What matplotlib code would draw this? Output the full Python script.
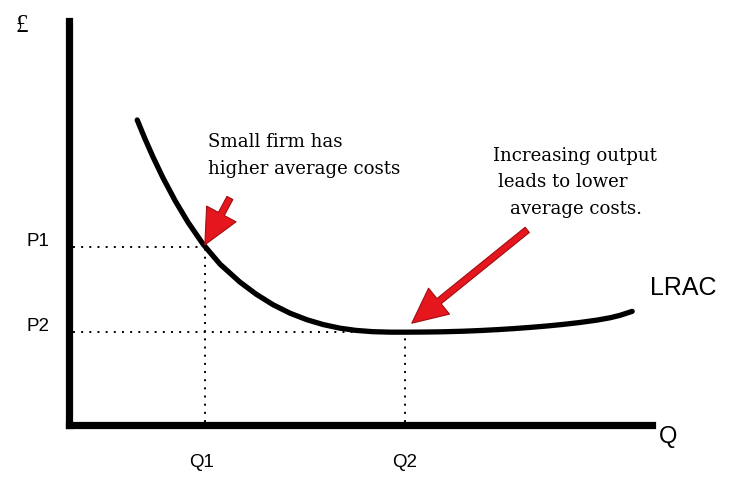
import matplotlib.pyplot as plt

# LRAC curve (output Q, cost £), axes run 0..10
lrac_q = [1.17, 1.30, 1.44, 1.61, 1.82, 2.04, 2.30, 2.59, 2.93, 3.21, 3.50, 3.79,
          4.08, 4.36, 4.65, 4.92, 5.21, 5.51, 5.80, 6.10, 6.40, 6.76, 7.05, 7.34,
          7.62, 7.91, 8.20, 8.47, 8.76, 9.06, 9.28, 9.45, 9.66]
lrac_cost = [7.55, 7.095, 6.637, 6.124, 5.553, 5.021, 4.475, 3.982, 3.540, 3.238,
             2.977, 2.768, 2.606, 2.486, 2.396, 2.342, 2.310, 2.298, 2.298, 2.301,
             2.307, 2.321, 2.338, 2.360, 2.385, 2.416, 2.451, 2.489, 2.537, 2.597,
             2.654, 2.714, 2.813]

# reference levels
q_levels = [2.33, 5.76]
p_levels = [4.40, 2.30]
q_labels = ["Q1", "Q2"]
p_labels = ["P1", "P2"]

# arrows: (tail, tip)
arrows = [((2.76, 5.62), (2.33, 4.46)),
          ((7.86, 4.83), (5.88, 2.52))]

note_small = ["Small firm has", "higher average costs"]
note_big = ["Increasing output", "leads to lower", "average costs."]

fig = plt.figure(figsize=(7.32, 4.83), dpi=100)
ax = fig.add_axes([69 / 732, 58 / 483, 583 / 732, 404 / 483])
ax.set_xlim(0, 10)
ax.set_ylim(0, 10)

for side in ["top", "right"]:
    ax.spines[side].set_visible(False)
for side in ["left", "bottom"]:
    ax.spines[side].set_linewidth(5.2)
    ax.spines[side].set_color("black")
ax.set_xticks([])
ax.set_yticks([])

# dotted guide lines
for q, p in zip(q_levels, p_levels):
    ax.plot([0.07, q], [p, p], color="black", lw=1.4, ls=(0, (1, 3.2)))
    ax.plot([q, q], [0.07, p], color="black", lw=1.4, ls=(0, (1, 3.2)))

ax.plot(lrac_q, lrac_cost, color="black", lw=3.8, solid_capstyle="round",
        solid_joinstyle="round")

for tail, tip in arrows:
    ax.annotate("", xy=tip, xytext=tail,
                arrowprops=dict(arrowstyle="simple,head_length=1.05,head_width=1.0,tail_width=0.2",
                                mutation_scale=24, fc="#e5161d", ec="#a10d12", lw=0.8,
                                shrinkA=0, shrinkB=0))

sans = ["Liberation Sans", "DejaVu Sans"]
serif = ["DejaVu Serif"]

ax.text(-0.81, 9.88, "£", family=["Liberation Serif"], fontsize=18, ha="center", va="center",
        clip_on=False)
ax.text(-0.53, 4.53, p_labels[0], family=sans, fontsize=13.5, ha="center", va="center")
ax.text(-0.53, 2.43, p_labels[1], family=sans, fontsize=13.5, ha="center", va="center")
ax.text(2.28, -0.92, q_labels[0], family=sans, fontsize=13.5, ha="center", va="center")
ax.text(5.76, -0.92, q_labels[1], family=sans, fontsize=13.5, ha="center", va="center")
ax.text(10.27, -0.30, "Q", family=sans, fontsize=17, ha="center", va="center")
ax.text(10.53, 3.39, "LRAC", family=sans, fontsize=18, ha="center", va="center")

ax.text(2.38, 6.88, note_small[0], family=serif, fontsize=13.1, ha="left", va="baseline")
ax.text(2.38, 6.21, note_small[1], family=serif, fontsize=13.1, ha="left", va="baseline")
ax.text(7.27, 6.53, note_big[0], family=serif, fontsize=13.1, ha="left", va="baseline")
ax.text(7.36, 5.89, note_big[1], family=serif, fontsize=13.1, ha="left", va="baseline")
ax.text(7.56, 5.22, note_big[2], family=serif, fontsize=13.1, ha="left", va="baseline")

fig.savefig("out.png", dpi=100)
